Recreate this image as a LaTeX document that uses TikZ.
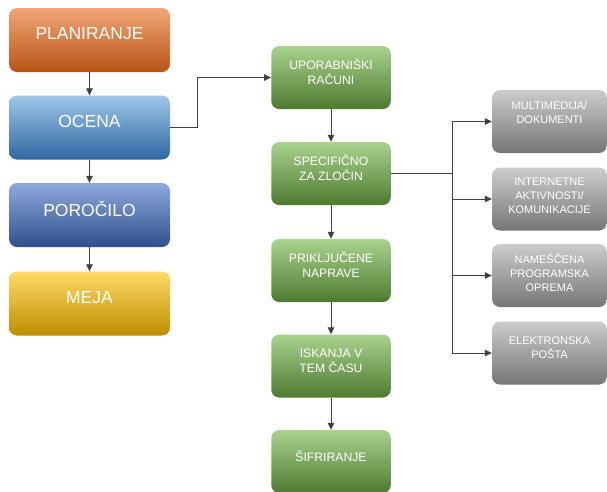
\documentclass[tikz,border=0pt]{standalone}
\usepackage{fontspec}
\setmainfont{Liberation Sans}
\usetikzlibrary{arrows.meta}
\definecolor{orT}{RGB}{242,166,118}\definecolor{orM}{RGB}{236,126,52}\definecolor{orB}{RGB}{184,84,22}
\definecolor{blT}{RGB}{160,198,232}\definecolor{blM}{RGB}{92,156,214}\definecolor{blB}{RGB}{46,104,162}
\definecolor{dbT}{RGB}{142,169,220}\definecolor{dbM}{RGB}{70,114,196}\definecolor{dbB}{RGB}{46,80,140}
\definecolor{yeT}{RGB}{255,218,104}\definecolor{yeM}{RGB}{255,192,0}\definecolor{yeB}{RGB}{190,142,0}
\definecolor{grT}{RGB}{170,210,142}\definecolor{grM}{RGB}{112,173,71}\definecolor{grB}{RGB}{78,122,48}
\definecolor{gyT}{RGB}{204,204,204}\definecolor{gyM}{RGB}{166,166,166}\definecolor{gyB}{RGB}{118,118,118}
\definecolor{lineC}{RGB}{64,64,64}
\tikzset{
  box/.style={rounded corners=8pt, inner sep=0pt},
  leftbox/.style={box, minimum width=161pt, minimum height=64pt},
  greenbox/.style={box, minimum width=119.5pt, minimum height=63pt, top color=grT, middle color=grM, bottom color=grB},
  graybox/.style={box, minimum width=115pt, minimum height=63pt, top color=gyT, middle color=gyM, bottom color=gyB},
  bigtxt/.style={text=white, font=\fontsize{17.5}{20}\selectfont},
  gtxt/.style={text=white, align=center, font=\fontsize{12.2}{15.3}\selectfont},
  ytxt/.style={text=white, align=center, font=\fontsize{11}{14}\selectfont},
  arr/.style={draw=lineC, line width=0.8pt, -{Triangle[length=7pt,width=6.5pt]}},
  ln/.style={draw=lineC, line width=0.8pt}
}
\begin{document}
\begin{tikzpicture}[x=1pt,y=-1pt]
\useasboundingbox (0,0) rectangle (607,491);
% left column
\node[leftbox, top color=orT, middle color=orM, bottom color=orB] (plan) at (89.5,40) {};
\node[leftbox, top color=blT, middle color=blM, bottom color=blB] (ocena) at (89.5,127.5) {};
\node[leftbox, top color=dbT, middle color=dbM, bottom color=dbB] (poro) at (89.5,215) {};
\node[leftbox, top color=yeT, middle color=yeM, bottom color=yeB] (meja) at (89.5,303.5) {};
\node[bigtxt] (tplan) at ([yshift=6]plan.center) {PLANIRANJE};
\node[bigtxt] (tocena) at ([yshift=6]ocena.center) {OCENA};
\node[bigtxt] (tporo) at ([yshift=6]poro.center) {POROČILO};
\node[bigtxt] (tmeja) at ([yshift=6]meja.center) {MEJA};
% green column
\node[greenbox] (upor) at (331,77.5) {};
\node[greenbox] (spec) at (331,173.5) {};
\node[greenbox] (prik) at (331,270.5) {};
\node[greenbox] (iska) at (331,366) {};
\node[greenbox] (sifr) at (331,461.5) {};
\node[gtxt] (tupor) at ([yshift=6]upor.center) {UPORABNIŠKI\\RAČUNI};
\node[gtxt] (tspec) at ([yshift=6]spec.center) {SPECIFIČNO\\ZA ZLOČIN};
\node[gtxt] (tprik) at ([yshift=5.5]prik.center) {PRIKLJUČENE\\NAPRAVE};
\node[gtxt] (tiska) at ([yshift=5.5]iska.center) {ISKANJA V\\TEM ČASU};
\node[gtxt] (tsifr) at ([yshift=5.5]sifr.center) {ŠIFRIRANJE};
% gray column
\node[graybox] (g1) at (549.5,121.5) {};
\node[graybox] (g2) at (549.5,199) {};
\node[graybox] (g3) at (549.5,275.5) {};
\node[graybox] (g4) at (549.5,353) {};
\node[ytxt] (tg1) at ([yshift=9]g1.center) {MULTIMEDIJA/\\DOKUMENTI};
\node[ytxt] (tg2) at ([yshift=3]g2.center) {INTERNETNE\\AKTIVNOSTI/\\KOMUNIKACIJE};
\node[ytxt] (tg3) at ([yshift=2.5]g3.center) {NAMEŠČENA\\PROGRAMSKA\\OPREMA};
\node[ytxt] (tg4) at ([yshift=5.5]g4.center) {ELEKTRONSKA\\POŠTA};
% connectors left
\draw[arr] (plan.south) -- (ocena.north);
\draw[arr] (ocena.south) -- (poro.north);
\draw[arr] (poro.south) -- (meja.north);
\coordinate (elb) at (197,127.5);
\draw[arr] (ocena.east) -- (elb) |- (upor.west);
% green connectors
\draw[arr] (upor.south) -- (spec.north);
\draw[arr] (spec.south) -- (prik.north);
\draw[arr] (prik.south) -- (iska.north);
\draw[arr] (iska.south) -- (sifr.north);
% bus to gray
\coordinate (bus) at (452,173.5);
\draw[ln] (spec.east) -- (bus);
\draw[arr] (bus) |- (g1.west);
\draw[arr] (bus) |- (g2.west);
\draw[arr] (bus) |- (g3.west);
\draw[arr] (bus) |- (g4.west);
\end{tikzpicture}
\end{document}
